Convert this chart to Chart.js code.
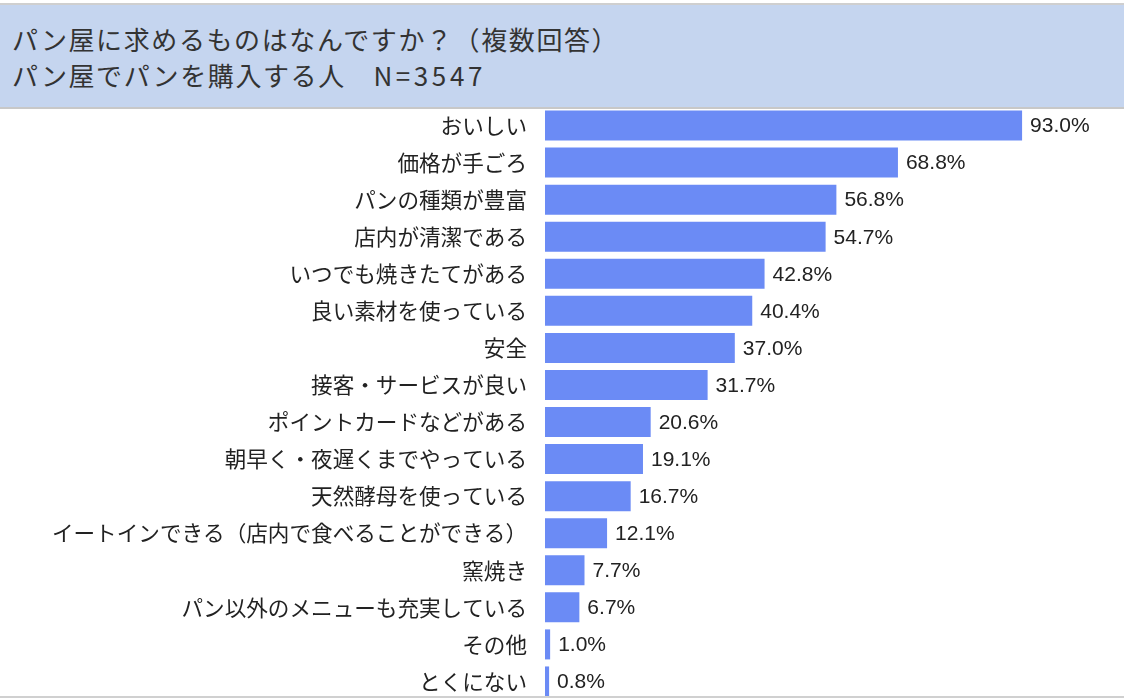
<!DOCTYPE html>
<html><head><meta charset="utf-8">
<script src="https://cdn.jsdelivr.net/npm/chart.js@4"></script>
<style>
html,body{margin:0;padding:0;background:#fff;width:1124px;height:700px;overflow:hidden;}
#topline{position:absolute;left:0;top:3px;width:1124px;height:2px;background:#cfcfcf;}
#header{position:absolute;left:0;top:5px;width:1124px;height:102px;background:#c5d5ef;border-bottom:2px solid #c8c8c8;box-sizing:content-box;font-family:"Noto Sans CJK JP","Noto Sans",sans-serif;color:#333;font-size:26px;}
#header .l1{position:absolute;left:12px;top:18px;line-height:32px;letter-spacing:1.6px;white-space:nowrap;}
#header .l2{position:absolute;left:12px;top:54px;line-height:32px;letter-spacing:1.6px;white-space:nowrap;}
#header .n{letter-spacing:3.6px;}
#c{position:absolute;left:0;top:107px;}
#botline{position:absolute;left:0;top:696px;width:1124px;height:2px;background:#d0d0d0;}
</style></head>
<body>
<div id="topline"></div>
<div id="header"><div class="l1">パン屋に求めるものはなんですか？（複数回答）</div><div class="l2">パン屋でパンを購入する人　<span class="n">N=3547</span></div></div>
<canvas id="c" width="1124" height="593"></canvas>
<div id="botline"></div>
<script>
const categories = ['おいしい','価格が手ごろ','パンの種類が豊富','店内が清潔である','いつでも焼きたてがある','良い素材を使っている','安全','接客・サービスが良い','ポイントカードなどがある','朝早く・夜遅くまでやっている','天然酵母を使っている','イートインできる（店内で食べることができる）','窯焼き','パン以外のメニューも充実している','その他','とくにない'];
const values = [93.0,68.8,56.8,54.7,42.8,40.4,37.0,31.7,20.6,19.1,16.7,12.1,7.7,6.7,1.0,0.8];

const valueLabels = {
  id:'valueLabels',
  afterDatasetsDraw(chart){
    const ctx = chart.ctx;
    const meta = chart.getDatasetMeta(0);
    ctx.save();
    ctx.font = '21px "Liberation Sans", sans-serif';
    ctx.fillStyle = '#222';
    ctx.textAlign = 'left';
    ctx.textBaseline = 'middle';
    meta.data.forEach((bar,i)=>{
      ctx.fillText(values[i].toFixed(1)+'%', bar.x+8, bar.y+1);
    });
    ctx.restore();
  }
};

new Chart(document.getElementById('c'),{
  type:'bar',
  data:{labels:categories,datasets:[{data:values,backgroundColor:'#6b8bf5',borderWidth:0,barPercentage:0.81,categoryPercentage:1}]},
  options:{
    indexAxis:'y',
    responsive:false,maintainAspectRatio:false,animation:false,devicePixelRatio:1,
    layout:{padding:{left:0,right:66,top:0,bottom:0}},
    plugins:{legend:{display:false},tooltip:{enabled:false},title:{display:false}},
    scales:{
      x:{display:false,min:0,max:100},
      y:{
        grid:{display:false,drawTicks:false},
        border:{display:false},
        afterFit(s){s.width=545;s.paddingTop=0;s.paddingBottom=0;},
        ticks:{padding:18,color:'#222',font:{family:'"Noto Sans CJK JP", sans-serif',size:21.6},autoSkip:false}
      }
    }
  },
  plugins:[valueLabels]
});
</script>
</body></html>
